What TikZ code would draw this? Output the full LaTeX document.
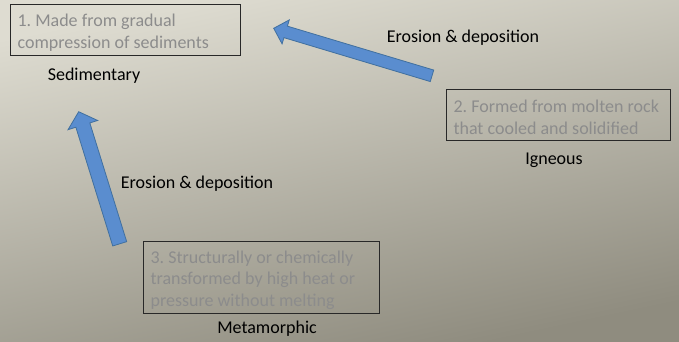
\documentclass[tikz,border=0pt]{standalone}
\usepackage{fontspec}
\setmainfont{Carlito}
\usetikzlibrary{calc}
\definecolor{bgtop}{HTML}{DEDCD1}
\definecolor{bgbot}{HTML}{8F8C7F}
\definecolor{arrfill}{HTML}{5A8DCF}
\definecolor{arrline}{HTML}{41709F}
\definecolor{boxtext}{HTML}{8C8C8C}
\definecolor{boxline}{HTML}{282828}
\newcommand{\topstrut}{\rule{0pt}{17.5pt}}
\tikzset{
  infobox/.style={draw=boxline, line width=1.1pt, rectangle, anchor=north west,
    inner xsep=7pt, inner ysep=2pt, align=flush left, text=boxtext,
    font=\fontsize{18}{21.7}\selectfont\frenchspacing},
  rocklabel/.style={text=black, inner sep=0pt, font=\fontsize{18}{21.5}\selectfont},
  blockarrow/.style={fill=arrfill, draw=arrline, line width=0.8pt, line join=miter}
}
\begin{document}
\begin{tikzpicture}[x=1pt,y=-1pt]
\shade[top color=bgtop, bottom color=bgbot, shading angle=12] (0,0) rectangle (679,341);
\useasboundingbox (0,0) rectangle (679,341);

\node[infobox, text width=216pt, minimum height=51pt] (b1) at (10,4)
  {\topstrut 1. Made from gradual\\compression of sediments};
\node[infobox, text width=210pt, minimum height=51pt] (b2) at (446,89)
  {\topstrut 2. Formed from molten rock\\that cooled and solidified};
\node[infobox, text width=222pt, minimum height=72pt] (b3) at (143,241)
  {\topstrut 3. Structurally or chemically\\transformed by high heat or\\pressure without melting};

\node[rocklabel] (sed) at (94,76) {Sedimentary};
\node[rocklabel] (ign) at (554,160) {Igneous};
\node[rocklabel] (met) at (267,329) {Metamorphic};
\node[rocklabel] (e1) at (463,38) {Erosion \& deposition};
\node[rocklabel] (e2) at (197,184) {Erosion \& deposition};

% top arrow
\coordinate (t1) at (432,75.8);
\coordinate (p1) at (273.7,28.3);
\coordinate (h1) at ($(p1)!12.5pt!(t1)$);
\fill[blockarrow]
  ($(t1)!6pt!90:(p1)$) -- ($(h1)!6pt!-90:(t1)$) -- ($(h1)!12.5pt!-90:(t1)$) -- (p1)
  -- ($(h1)!12.5pt!90:(t1)$) -- ($(h1)!6pt!90:(t1)$) -- ($(t1)!6pt!-90:(p1)$) -- cycle;

% left arrow
\coordinate (t2) at (119.7,243.8);
\coordinate (p2) at (78.7,111.7);
\coordinate (h2) at ($(p2)!14pt!(t2)$);
\fill[blockarrow]
  ($(t2)!7.3pt!90:(p2)$) -- ($(h2)!7.3pt!-90:(t2)$) -- ($(h2)!15.5pt!-90:(t2)$) -- (p2)
  -- ($(h2)!15.5pt!90:(t2)$) -- ($(h2)!7.3pt!90:(t2)$) -- ($(t2)!7.3pt!-90:(p2)$) -- cycle;
\end{tikzpicture}
\end{document}
